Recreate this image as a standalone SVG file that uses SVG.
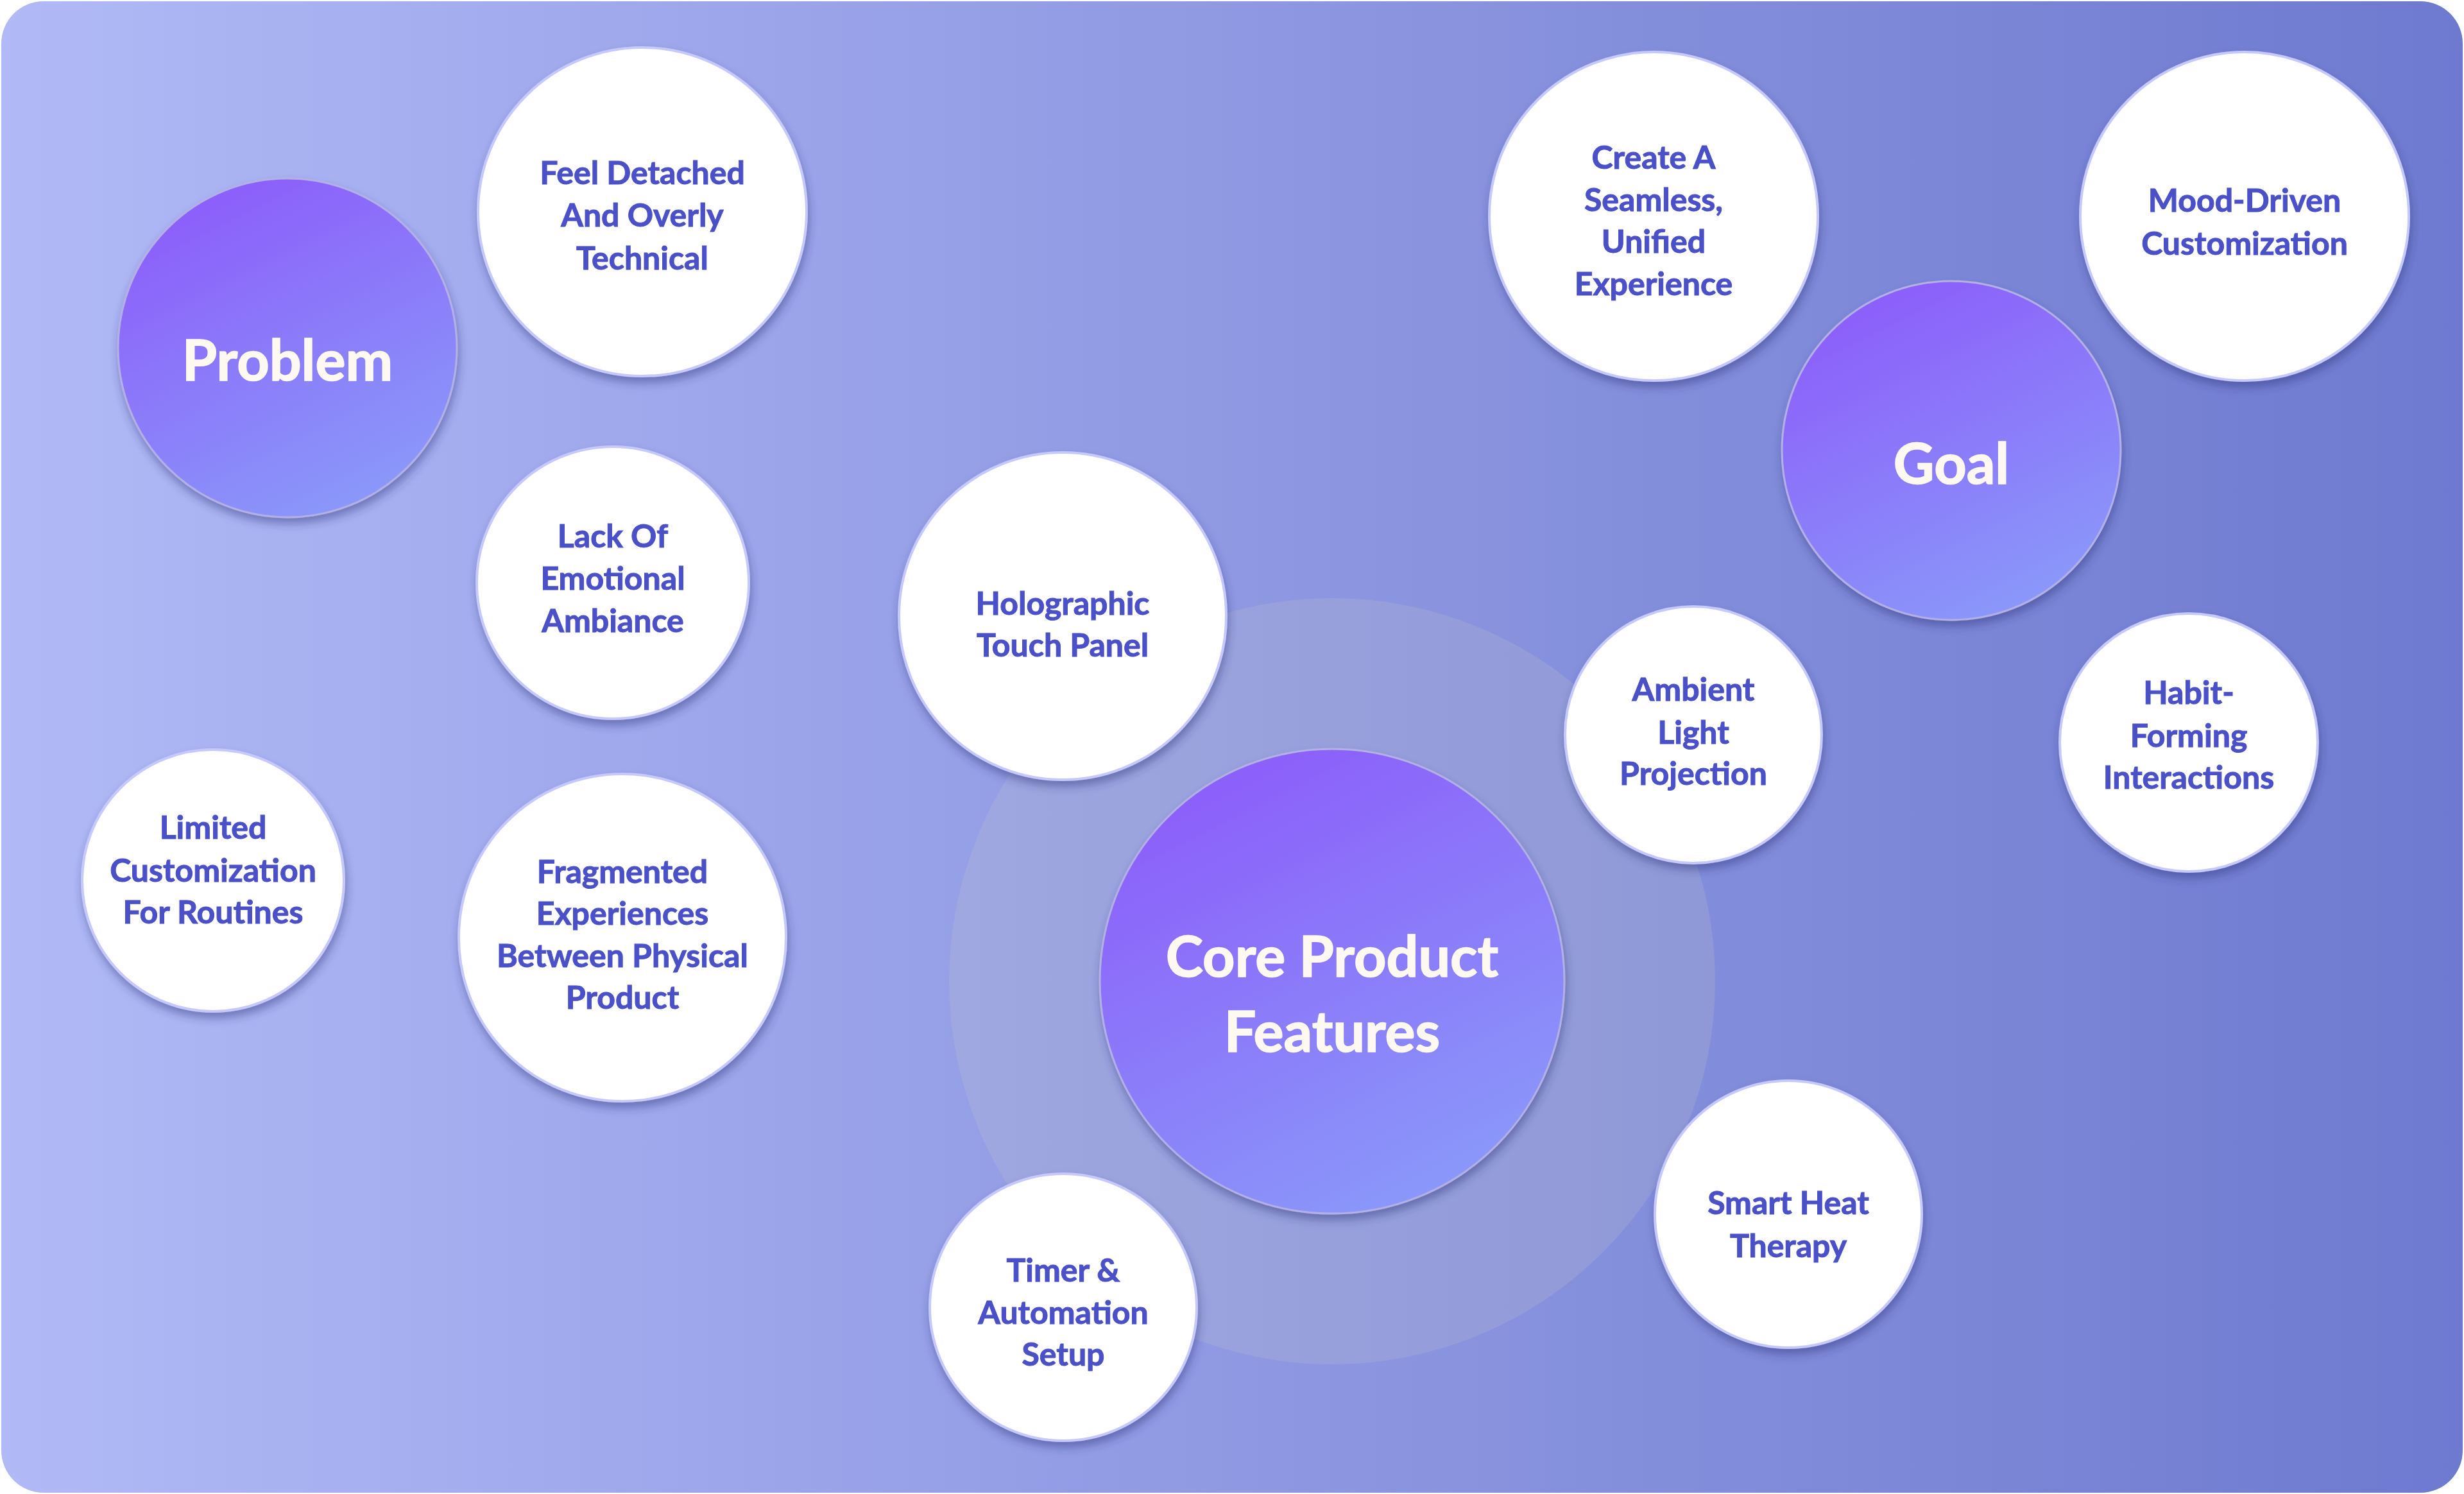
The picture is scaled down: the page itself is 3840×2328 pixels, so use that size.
<svg xmlns="http://www.w3.org/2000/svg" width="3840" height="2328" viewBox="0 0 3840 2328">
  <defs>
    <linearGradient id="bg" x1="0" y1="0" x2="1" y2="0">
      <stop offset="0" stop-color="#b1b9f6"/>
      <stop offset="0.37" stop-color="#97a1e7"/>
      <stop offset="1" stop-color="#6e7acf"/>
    </linearGradient>
    <linearGradient id="purple" x1="0.25" y1="0" x2="0.75" y2="1">
      <stop offset="0" stop-color="#8c5cfa"/>
      <stop offset="1" stop-color="#8a9bf9"/>
    </linearGradient>
    <filter id="shadow" x="-20%" y="-20%" width="140%" height="150%">
      <feDropShadow dx="2" dy="9" stdDeviation="7" flood-color="#2c307a" flood-opacity="0.45"/>
    </filter>
    <style>
      .white { fill: #ffffff; stroke: #c6c9fb; stroke-width: 4; filter: url(#shadow); }
      .hub { fill: url(#purple); stroke: #b3b0e6; stroke-width: 3; filter: url(#shadow); }
      .lbl { font-family: Lato, "Noto Sans", "Liberation Sans", sans-serif; font-weight: 700; font-size: 50px; fill: #4a50c8; stroke: #4a50c8; stroke-width: 1; text-anchor: middle; }
      .ttl { font-family: Lato, "Noto Sans", "Liberation Sans", sans-serif; font-weight: 700; font-size: 88px; fill: #fdf9f0; stroke: #fdf9f0; stroke-width: 1.6; text-anchor: middle; }
    </style>
  </defs>

  <rect x="2" y="2" width="3836" height="2324" rx="66" ry="66" fill="url(#bg)"/>

  <g id="connectors"/>

  <g id="core">
    <circle cx="2076" cy="1529" r="597" fill="#c8c8c8" fill-opacity="0.2"/>
    <circle class="hub" cx="2076" cy="1529" r="362"/>
    <text class="ttl" x="2076" y="1522">Core Product</text>
    <text class="ttl" x="2076" y="1639">Features</text>
  </g>

  <g id="problem">
    <circle class="hub" cx="448" cy="542" r="264"/>
    <text class="ttl" x="448" y="593">Problem</text>
  </g>

  <g id="goal">
    <circle class="hub" cx="3041" cy="702" r="264"/>
    <text class="ttl" x="3041" y="754">Goal</text>
  </g>

  <g id="feel-detached">
    <circle class="white" cx="1001" cy="330" r="256"/>
    <text class="lbl" x="1001" y="287">Feel Detached</text>
    <text class="lbl" x="1001" y="353">And Overly</text>
    <text class="lbl" x="1001" y="420">Technical</text>
  </g>

  <g id="lack-of-emotional-ambiance">
    <circle class="white" cx="955" cy="908" r="212"/>
    <text class="lbl" x="955" y="853">Lack Of</text>
    <text class="lbl" x="955" y="919">Emotional</text>
    <text class="lbl" x="955" y="985">Ambiance</text>
  </g>

  <g id="limited-customization">
    <circle class="white" cx="332" cy="1372" r="204"/>
    <text class="lbl" x="332" y="1307">Limited</text>
    <text class="lbl" x="332" y="1374">Customization</text>
    <text class="lbl" x="332" y="1439">For Routines</text>
  </g>

  <g id="fragmented-experiences">
    <circle class="white" cx="970" cy="1461" r="255"/>
    <text class="lbl" x="970" y="1376">Fragmented</text>
    <text class="lbl" x="970" y="1441">Experiences</text>
    <text class="lbl" x="970" y="1507">Between Physical</text>
    <text class="lbl" x="970" y="1572">Product</text>
  </g>

  <g id="create-seamless">
    <circle class="white" cx="2577" cy="337" r="256"/>
    <text class="lbl" x="2577" y="263">Create A</text>
    <text class="lbl" x="2577" y="329">Seamless,</text>
    <text class="lbl" x="2577" y="394">Unified</text>
    <text class="lbl" x="2577" y="460">Experience</text>
  </g>

  <g id="mood-driven">
    <circle class="white" cx="3498" cy="337" r="256"/>
    <text class="lbl" x="3498" y="330">Mood-Driven</text>
    <text class="lbl" x="3498" y="397">Customization</text>
  </g>

  <g id="holographic-touch-panel">
    <circle class="white" cx="1656" cy="960" r="255"/>
    <text class="lbl" x="1656" y="958">Holographic</text>
    <text class="lbl" x="1656" y="1023">Touch Panel</text>
  </g>

  <g id="ambient-light-projection">
    <circle class="white" cx="2639" cy="1145" r="200"/>
    <text class="lbl" x="2639" y="1092">Ambient</text>
    <text class="lbl" x="2639" y="1159">Light</text>
    <text class="lbl" x="2639" y="1223">Projection</text>
  </g>

  <g id="habit-forming">
    <circle class="white" cx="3411" cy="1157" r="201"/>
    <text class="lbl" x="3411" y="1097">Habit-</text>
    <text class="lbl" x="3411" y="1164">Forming</text>
    <text class="lbl" x="3411" y="1229">Interactions</text>
  </g>

  <g id="smart-heat-therapy">
    <circle class="white" cx="2787" cy="1892" r="208"/>
    <text class="lbl" x="2787" y="1892">Smart Heat</text>
    <text class="lbl" x="2787" y="1959">Therapy</text>
  </g>

  <g id="timer-automation">
    <circle class="white" cx="1657" cy="2037" r="208"/>
    <text class="lbl" x="1657" y="1997">Timer &amp;</text>
    <text class="lbl" x="1657" y="2063">Automation</text>
    <text class="lbl" x="1657" y="2128">Setup</text>
  </g>
</svg>
